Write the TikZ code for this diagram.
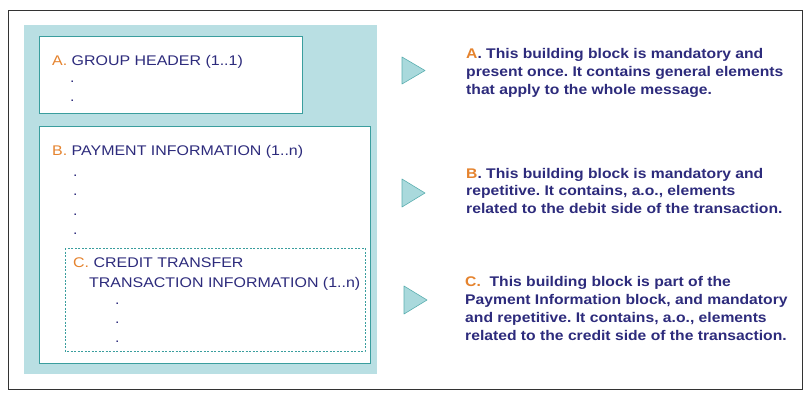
\documentclass[tikz,border=0pt]{standalone}
\usepackage{fontspec}
\setmainfont{Liberation Sans}
\newfontfamily\lblfont[FakeStretch=1.14]{Liberation Sans}
\newfontfamily\descfont[FakeStretch=1.12]{Liberation Sans}
\frenchspacing
\definecolor{navy}{HTML}{2D2B7C}
\definecolor{orng}{HTML}{E5832E}
\definecolor{tealbg}{HTML}{B9DFE3}
\definecolor{tealln}{HTML}{3A9E9E}
\definecolor{trifill}{HTML}{A9D9DC}
\definecolor{triline}{HTML}{5BAFB0}
\tikzset{
  lbl/.style={anchor=base west,inner sep=0pt,text=navy,font=\lblfont\fontsize{14}{17}\selectfont},
  dotnode/.style={anchor=base west,inner sep=0pt,text=navy,font=\lblfont\fontsize{14}{17}\selectfont},
  desc/.style={anchor=north west,inner sep=0pt,text=navy,align=left,font=\descfont\fontsize{14}{17.7}\selectfont\bfseries},
  boxln/.style={draw=tealln,line width=0.8pt,fill=white},
  tri/.style={draw=triline,fill=trifill,line width=0.6pt,line join=round}
}
\begin{document}
\begin{tikzpicture}[x=1pt,y=-1pt]
\useasboundingbox (0,0) rectangle (803,392);
\fill[white] (0,0) rectangle (803,392);
\draw[line width=1pt,black!80] (8.5,10.5) rectangle (802.5,389);
\fill[tealbg] (24,25) rectangle (377,374);
\draw[boxln] (39,36) rectangle (302,113);
\draw[boxln] (39,126) rectangle (370,363);
\draw[tealln,dashed,line width=0.6pt,dash pattern=on 2pt off 1.5pt] (65,248) rectangle (365,351);
% left texts
\node[lbl] (ga) at (52,65) {\textcolor{orng}{A.} GROUP HEADER (1..1)};
\node[dotnode] (gd1) at (70,82) {.};
\node[dotnode] (gd2) at (70,101) {.};
\node[lbl] (pb) at (52,155) {\textcolor{orng}{B.} PAYMENT INFORMATION (1..n)};
\node[dotnode] (pd1) at (73,176) {.};
\node[dotnode] (pd2) at (73,195) {.};
\node[dotnode] (pd3) at (73,215) {.};
\node[dotnode] (pd4) at (73,234) {.};
\node[lbl] (ct1) at (73,267) {\textcolor{orng}{C.} CREDIT TRANSFER};
\node[lbl] (ct2) at (89,287) {TRANSACTION INFORMATION (1..n)};
\node[dotnode] (cd1) at (115,304) {.};
\node[dotnode] (cd2) at (115,323) {.};
\node[dotnode] (cd3) at (115,342) {.};
% triangles
\draw[tri] (402,57) -- (425,70.5) -- (402,84) -- cycle;
\draw[tri] (402,179) -- (425,193) -- (402,207) -- cycle;
\draw[tri] (404,286) -- (427,300) -- (404,314) -- cycle;
% descriptions
\node[desc] (da) at (466,48.3) {\textcolor{orng}{A}. This building block is mandatory and\\present once. It contains general elements\\that apply to the whole message.};
\node[desc] (db) at (466,167.7) {\textcolor{orng}{B}. This building block is mandatory and\\repetitive. It contains, a.o., elements\\related to the debit side of the transaction.};
\node[desc,font=\descfont\fontsize{14}{18.2}\selectfont\bfseries] (dc) at (465,276) {\textcolor{orng}{C.}\ \ This building block is part of the\\Payment Information block, and mandatory\\and repetitive. It contains, a.o., elements\\related to the credit side of the transaction.};
\end{tikzpicture}
\end{document}
